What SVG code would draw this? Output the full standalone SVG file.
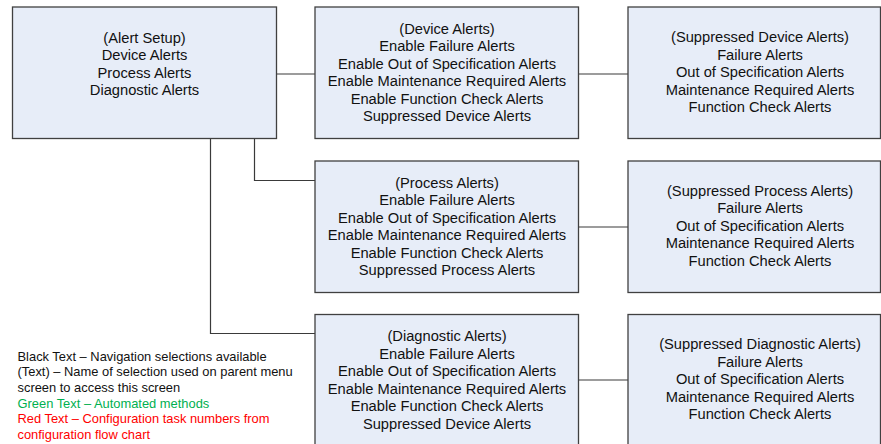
<svg xmlns="http://www.w3.org/2000/svg" width="881" height="444" viewBox="0 0 881 444">
<style>
.box{fill:#e7edf8;stroke:#404040;stroke-width:1.3}
.t{font-family:"Liberation Sans",Arial,sans-serif;font-size:14.7px;fill:#111;text-anchor:middle}
.c{fill:none;stroke:#3a3a3a;stroke-width:1.2}
.lg{font-family:"Liberation Sans",Arial,sans-serif;font-size:12.9px;fill:#111}
</style>
<rect width="881" height="444" fill="#fff"/>
<g id="connectors">
<path class="c" d="M276.5 74H315"/>
<path class="c" d="M578.5 74H628"/>
<path class="c" d="M254.5 138.5V180.5H315"/>
<path class="c" d="M210.5 138.5V333.5H315"/>
<path class="c" d="M578.5 227H628"/>
<path class="c" d="M578.5 380H628"/>
</g>
<g id="alert-setup">
<rect class="box" x="12.5" y="7" width="264" height="131.5"/>
<text class="t" x="144.5" y="42.5">(Alert Setup)</text>
<text class="t" x="144.5" y="60">Device Alerts</text>
<text class="t" x="144.5" y="77.5">Process Alerts</text>
<text class="t" x="144.5" y="95">Diagnostic Alerts</text>
</g>
<g id="device-alerts">
<rect class="box" x="315" y="7" width="263.5" height="131.5"/>
<text class="t" x="447" y="33.5">(Device Alerts)</text>
<text class="t" x="447" y="51">Enable Failure Alerts</text>
<text class="t" x="447" y="68.5">Enable Out of Specification Alerts</text>
<text class="t" x="447" y="86">Enable Maintenance Required Alerts</text>
<text class="t" x="447" y="103.5">Enable Function Check Alerts</text>
<text class="t" x="447" y="121">Suppressed Device Alerts</text>
</g>
<g id="suppressed-device-alerts">
<rect class="box" x="628" y="7" width="252.5" height="131.5"/>
<text class="t" x="760" y="42">(Suppressed Device Alerts)</text>
<text class="t" x="760" y="59.5">Failure Alerts</text>
<text class="t" x="760" y="77">Out of Specification Alerts</text>
<text class="t" x="760" y="94.5">Maintenance Required Alerts</text>
<text class="t" x="760" y="112">Function Check Alerts</text>
</g>
<g id="process-alerts">
<rect class="box" x="315" y="161" width="263.5" height="131.5"/>
<text class="t" x="447" y="187.5">(Process Alerts)</text>
<text class="t" x="447" y="205">Enable Failure Alerts</text>
<text class="t" x="447" y="222.5">Enable Out of Specification Alerts</text>
<text class="t" x="447" y="240">Enable Maintenance Required Alerts</text>
<text class="t" x="447" y="257.5">Enable Function Check Alerts</text>
<text class="t" x="447" y="275">Suppressed Process Alerts</text>
</g>
<g id="suppressed-process-alerts">
<rect class="box" x="628" y="161" width="252.5" height="131.5"/>
<text class="t" x="760" y="195.5">(Suppressed Process Alerts)</text>
<text class="t" x="760" y="213">Failure Alerts</text>
<text class="t" x="760" y="230.5">Out of Specification Alerts</text>
<text class="t" x="760" y="248">Maintenance Required Alerts</text>
<text class="t" x="760" y="265.5">Function Check Alerts</text>
</g>
<g id="diagnostic-alerts">
<rect class="box" x="315" y="314.5" width="263.5" height="131.5"/>
<text class="t" x="447" y="341">(Diagnostic Alerts)</text>
<text class="t" x="447" y="358.5">Enable Failure Alerts</text>
<text class="t" x="447" y="376">Enable Out of Specification Alerts</text>
<text class="t" x="447" y="393.5">Enable Maintenance Required Alerts</text>
<text class="t" x="447" y="411">Enable Function Check Alerts</text>
<text class="t" x="447" y="428.5">Suppressed Device Alerts</text>
</g>
<g id="suppressed-diagnostic-alerts">
<rect class="box" x="628" y="314.5" width="252.5" height="131.5"/>
<text class="t" x="760" y="349">(Suppressed Diagnostic Alerts)</text>
<text class="t" x="760" y="366.5">Failure Alerts</text>
<text class="t" x="760" y="384">Out of Specification Alerts</text>
<text class="t" x="760" y="401.5">Maintenance Required Alerts</text>
<text class="t" x="760" y="419">Function Check Alerts</text>
</g>
<g id="legend">
<text class="lg" x="17.5" y="360.5">Black Text – Navigation selections available</text>
<text class="lg" x="17.5" y="376.2">(Text) – Name of selection used on parent menu</text>
<text class="lg" x="17.5" y="391.9">screen to access this screen</text>
<text class="lg" x="17.5" y="407.6" style="fill:#00b050">Green Text – Automated methods</text>
<text class="lg" x="17.5" y="423.3" style="fill:#ff0000">Red Text – Configuration task numbers from</text>
<text class="lg" x="17.5" y="439" style="fill:#ff0000">configuration flow chart</text>
</g>
</svg>
